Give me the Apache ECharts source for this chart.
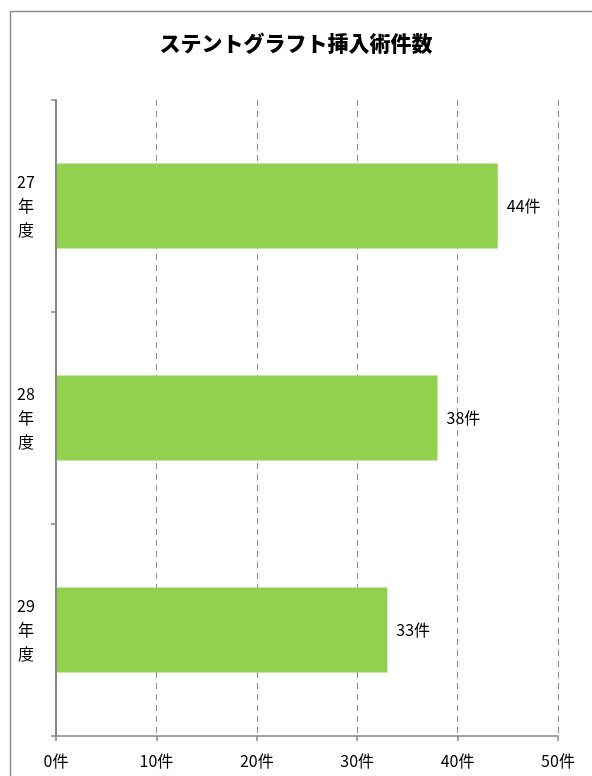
<!DOCTYPE html>
<html><head><meta charset="utf-8">
<script src="https://cdn.jsdelivr.net/npm/echarts@6/dist/echarts.min.js"></script>
<style>html,body{margin:0;padding:0;background:#fff}#c{width:592px;height:776px}</style>
</head><body><div id="c"></div>
<script>
const title = 'ステントグラフト挿入術件数';
const categories = ['27\n年\n度', '28\n年\n度', '29\n年\n度'];
const values = [44, 38, 33];
const unit = '件';
const xMin = 0, xMax = 50, xStep = 10;

const chart = echarts.init(document.getElementById('c'));
const font = '"Noto Sans CJK JP", "Noto Sans", sans-serif';
chart.setOption({
  animation: false,
  graphic: [{
    type: 'rect', left: 8, top: 9, silent: true,
    shape: { width: 620, height: 800 },
    style: { fill: 'none', stroke: '#8c8c8c', lineWidth: 1.5 }
  }],
  title: {
    text: title, left: 'center', top: 28,
    textStyle: { fontFamily: font, fontSize: 21, fontWeight: 900, color: '#000' }
  },
  grid: { left: 56, right: 34, top: 100, bottom: 40, containLabel: false },
  xAxis: {
    type: 'value', min: xMin, max: xMax, interval: xStep,
    axisLine: { show: true, lineStyle: { color: '#868686', width: 1.5 } },
    axisTick: { show: true, length: 5, lineStyle: { color: '#868686', width: 1.5 } },
    axisLabel: { formatter: v => v + unit, margin: 17, fontFamily: font, fontSize: 16, color: '#000' },
    splitLine: { show: true, lineStyle: { color: '#8c8c8c', type: [6, 5], width: 1 } }
  },
  yAxis: {
    type: 'category', data: categories, inverse: true, z: 5,
    axisLine: { show: true, lineStyle: { color: '#868686', width: 2 } },
    axisTick: { show: true, length: 5, lineStyle: { color: '#868686', width: 1.5 } },
    axisLabel: { align: 'center', margin: 30, fontFamily: font, fontSize: 16, lineHeight: 24, color: '#000' }
  },
  series: [{
    type: 'bar', data: values, barWidth: 85,
    itemStyle: { color: '#92D050' },
    label: { show: true, position: 'right', distance: 9, formatter: p => p.value + unit,
      fontFamily: font, fontSize: 16, color: '#000' }
  }]
});
</script></body></html>
